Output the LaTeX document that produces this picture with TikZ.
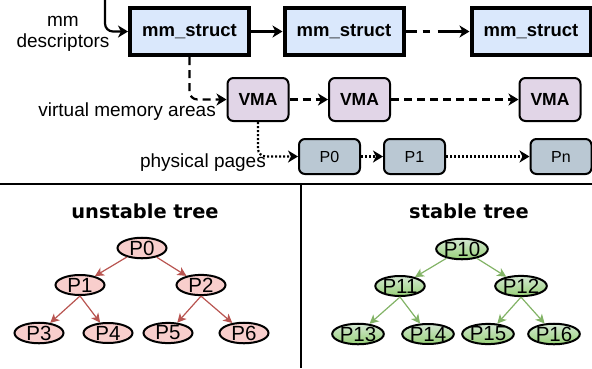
\documentclass[tikz,border=0pt]{standalone}
\usepackage{fontspec}
\setmainfont{Liberation Sans}
\newfontfamily\titlefont{DejaVu Sans}
\usetikzlibrary{arrows.meta,shapes.geometric}
\definecolor{mmfill}{HTML}{DAE8FC}
\definecolor{vmafill}{HTML}{E1D5E7}
\definecolor{pgfill}{HTML}{BAC8D3}
\definecolor{redfill}{HTML}{F8CECC}
\definecolor{redline}{HTML}{B85450}
\definecolor{greentop}{HTML}{D5E8D4}
\definecolor{greenbot}{HTML}{97D077}
\definecolor{greenline}{HTML}{82B366}
\begin{document}
\begin{tikzpicture}[x=1pt,y=-1pt,
  mmbox/.style={draw, line width=4pt, fill=mmfill, minimum width=119pt, minimum height=47pt, inner sep=0pt,
    font=\fontsize{18.5}{20}\selectfont\bfseries},
  vmabox/.style={draw, line width=2pt, fill=vmafill, rounded corners=6pt, minimum width=61pt, minimum height=43pt, inner sep=0pt,
    font=\fontsize{17.5}{18}\selectfont\bfseries},
  pgbox/.style={draw, line width=2pt, fill=pgfill, rounded corners=6pt, minimum width=61pt, minimum height=35pt, inner sep=0pt,
    font=\fontsize{16}{17}\selectfont},
  lbl/.style={font=\fontsize{19}{21.5}\selectfont, inner sep=0pt, align=center},
  ttl/.style={font={\titlefont\bfseries\fontsize{19.4}{22}\selectfont}, inner sep=0pt},
  tnode/.style={ellipse, draw, line width=2pt, minimum width=49pt, minimum height=20pt, inner sep=0pt,
    font=\fontsize{20.5}{20}\selectfont},
  rednode/.style={tnode, fill=redfill},
  greennode/.style={tnode, top color=greentop, bottom color=greenbot},
  arr/.style={line width=2.2pt, -{Stealth[length=10pt,width=12pt,inset=3pt]}},
  dsh/.style={dash pattern=on 8pt off 5pt},
  dot/.style={dash pattern=on 2pt off 2pt},
  redarr/.style={line width=1.2pt, draw=redline, -{Stealth[length=9pt,width=9pt,inset=2.5pt]}},
  greenarr/.style={line width=1.2pt, draw=greenline, -{Stealth[length=9pt,width=9pt,inset=2.5pt]}}
]
\useasboundingbox (0,0) rectangle (592,368);

% top: mm_struct chain
\node[mmbox] (m1) at (189.5,31.5) {mm\_struct};
\node[mmbox] (m2) at (344,31.5) {mm\_struct};
\node[mmbox] (m3) at (531,31.5) {mm\_struct};
\coordinate (entry) at (105,0);
\node[lbl] (mmlbl) at (63,34) {mm\\descriptors};
\draw[arr, rounded corners=8pt] (entry) |- (m1);
\draw[arr] (m1) -- (m2);
\draw[arr, dash pattern=on 4pt off 0pt on 7pt off 6pt on 7pt off 8pt on 60pt] (m2) -- (m3);

% VMAs
\node[vmabox] (v1) at (258,99.5) {VMA};
\node[vmabox] (v2) at (359.5,99.5) {VMA};
\node[vmabox] (v3) at (550,99.5) {VMA};
\node[lbl, anchor=east] (vlbl) at (216,112) {virtual memory areas};
\draw[arr, dsh, rounded corners=8pt] (m1.south) |- (v1);
\draw[arr, dsh] (v1) -- (v2);
\draw[arr, dsh] (v2) -- (v3);

% physical pages
\node[pgbox] (p0) at (329.5,156.5) {P0};
\node[pgbox] (p1) at (414.5,156.5) {P1};
\node[pgbox] (pn) at (561,156.5) {Pn};
\node[lbl, anchor=east] (plbl) at (266,163) {physical pages};
\draw[arr, dot, rounded corners=8pt] (v1.south) |- (p0);
\draw[arr, dot] (p0) -- (p1);
\draw[arr, dot] (p1) -- (pn);

% separators
\draw[line width=2.3pt] (0,184) -- (592,184);
\draw[line width=2pt] (301,184) -- (301,368);

% unstable tree
\node[ttl] (t1) at (145,211) {unstable tree};
\node[rednode] (u0) at (142,248) {P0};
\node[rednode] (u1) at (80,285) {P1};
\node[rednode] (u2) at (201,285) {P2};
\node[rednode] (u3) at (39,333) {P3};
\node[rednode] (u4) at (108,333) {P4};
\node[rednode] (u5) at (168,333) {P5};
\node[rednode] (u6) at (244,333) {P6};
\draw[redarr] (u0) -- (u1);
\draw[redarr] (u0) -- (u2);
\draw[redarr] (u1.south) -- (u3);
\draw[redarr] (u1.south) -- (u4);
\draw[redarr] (u2.south) -- (u5);
\draw[redarr] (u2.south) -- (u6);

% stable tree
\node[ttl] (t2) at (469,211) {stable tree};
\node[greennode] (s0) at (462,249) {P10};
\node[greennode] (s1) at (400,286) {P11};
\node[greennode] (s2) at (521,286) {P12};
\node[greennode] (s3) at (358,334) {P13};
\node[greennode] (s4) at (428,334) {P14};
\node[greennode] (s5) at (488,334) {P15};
\node[greennode] (s6) at (554,334) {P16};
\draw[greenarr] (s0) -- (s1);
\draw[greenarr] (s0) -- (s2);
\draw[greenarr] (s1.south) -- (s3);
\draw[greenarr] (s1.south) -- (s4);
\draw[greenarr] (s2.south) -- (s5);
\draw[greenarr] (s2.south) -- (s6);
\end{tikzpicture}
\end{document}
